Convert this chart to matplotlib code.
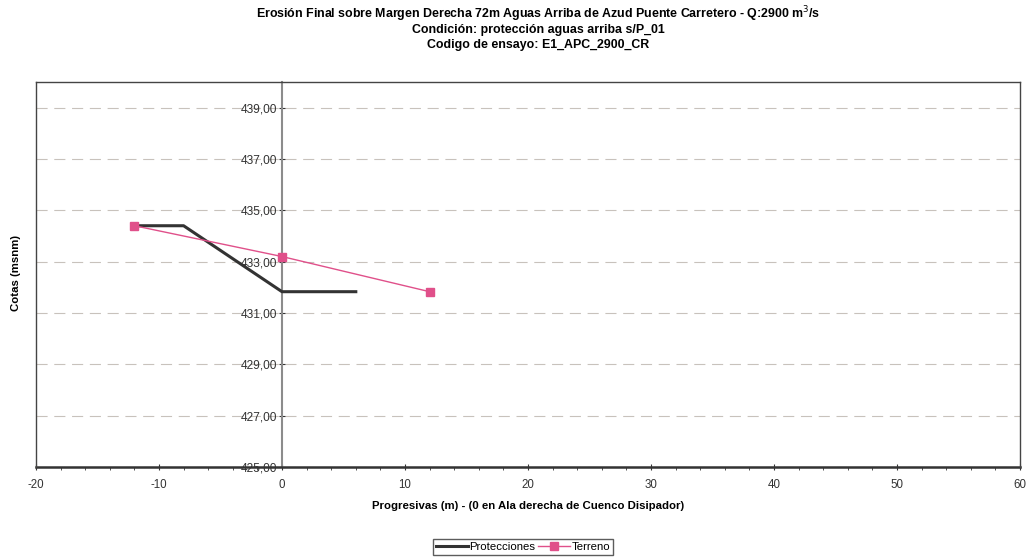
import matplotlib.pyplot as plt
from matplotlib.ticker import MultipleLocator, FuncFormatter

plt.rcParams['font.family'] = ['Liberation Sans', 'DejaVu Sans']
plt.rcParams['axes.unicode_minus'] = False

# perfiles de erosion
prot_x = [-12, -8, 0, 6]
prot_y = [434.4, 434.4, 431.83, 431.83]
terr_x = [-12, 0, 12]
terr_y = [434.4, 433.2, 431.83]

fig = plt.figure(figsize=(10.28, 5.57), dpi=100)
ax = fig.add_axes([36 / 1028, 1 - 467 / 557, (1020 - 36) / 1028, (467 - 82) / 557])

ax.plot(prot_x, prot_y, color='#333333', lw=2.2, label='Protecciones', zorder=3)
ax.plot(terr_x, terr_y, color='#e0508a', lw=1.0, marker='s', markersize=6,
        markeredgecolor='#e0508a', label='Terreno', zorder=4)

ax.set_xlim(-20, 60)
ax.set_ylim(425, 440)

# ejes cruzando en x=0 e y=425
ax.spines['left'].set_position(('data', 0))
ax.spines['left'].set_color('#8c8c8c')
ax.spines['left'].set_linewidth(1.5)
ax.spines['bottom'].set_color('#333333')
ax.spines['bottom'].set_linewidth(1.8)
ax.spines['right'].set_visible(False)
ax.spines['top'].set_visible(False)
# marco exterior
for xs, ys in [([-20, -20], [425, 440]), ([-20, 60], [440, 440]), ([60, 60], [425, 440])]:
    ax.plot(xs, ys, color='#444444', lw=1.0, clip_on=False, zorder=5)

ax.xaxis.set_major_locator(MultipleLocator(10))
ax.xaxis.set_minor_locator(MultipleLocator(2))
ax.yaxis.set_major_locator(plt.FixedLocator([425, 427, 429, 431, 433, 435, 437, 439]))
ax.yaxis.set_major_formatter(FuncFormatter(lambda v, p: f'{v:.2f}'.replace('.', ',')))
ax.tick_params(axis='x', which='major', direction='inout', length=5, labelsize=8.3, colors='#333333', pad=6)
ax.tick_params(axis='x', which='minor', direction='out', length=2.5, colors='#333333')
ax.tick_params(axis='y', direction='inout', length=5, labelsize=8.6, colors='#333333', pad=1)

ax.grid(axis='y', which='major', color='#c8c2bc', ls=(0, (10, 6)), lw=0.8)

ax.set_xlabel('Progresivas (m) - (0 en Ala derecha de Cuenco Disipador)',
              fontsize=8.2, fontweight='bold', labelpad=7)
fig.text(16 / 1028, 1 - 273 / 557, 'Cotas (msnm)', rotation=90, fontsize=8.2,
         fontweight='bold', ha='center', va='center')

title_kw = dict(ha='center', va='center', fontsize=8.9, fontweight='bold')
fig.text(538 / 1028, 1 - 14 / 557,
         'Erosión Final sobre Margen Derecha 72m Aguas Arriba de Azud Puente Carretero - Q:2900 m$^3$/s',
         **title_kw)
fig.text(538 / 1028, 1 - 30 / 557, 'Condición: protección aguas arriba s/P_01', **title_kw)
fig.text(538 / 1028, 1 - 45 / 557, 'Codigo de ensayo: E1_APC_2900_CR', **title_kw)

leg = fig.legend(loc='center', bbox_to_anchor=(523 / 1028, 1 - 547 / 557), ncol=2,
                 fontsize=8.2, frameon=True, fancybox=False, handlelength=2.8,
                 columnspacing=0.3, handletextpad=0.1, borderpad=0.25, borderaxespad=0)
leg.get_frame().set_edgecolor('#333333')
leg.get_frame().set_linewidth(1.0)

fig.savefig('out.png', dpi=100)
